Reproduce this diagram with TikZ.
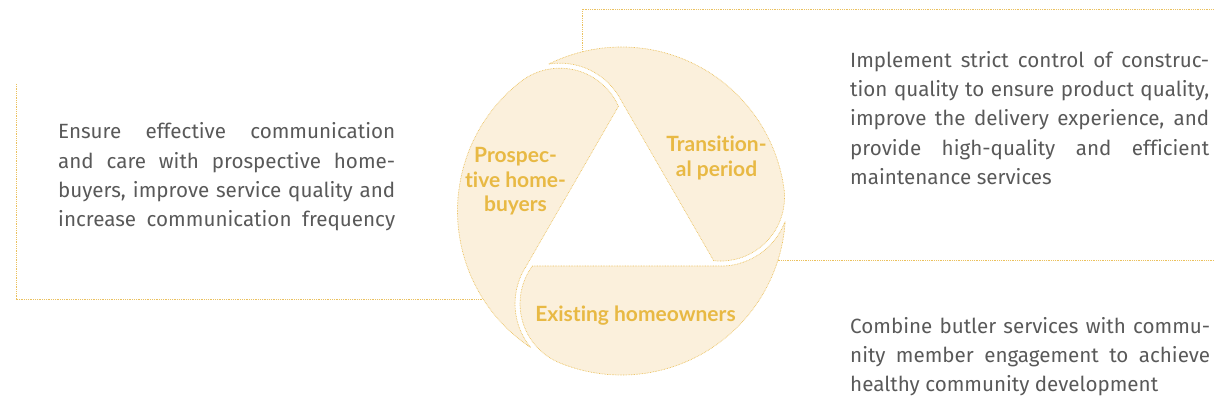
\documentclass[tikz,border=0pt]{standalone}
\usepackage{fontspec}
\setmainfont{Lato}[Ligatures=NoCommon]
\newfontfamily\descfont{Fira Sans}[Ligatures=NoCommon]
\definecolor{pfill}{HTML}{FBF0DC}
\definecolor{pline}{HTML}{EBC15E}
\definecolor{lbl}{HTML}{E8B944}
\definecolor{dtxt}{HTML}{595959}
\newcommand{\jline}[1]{\makebox[\linewidth][s]{#1}}
\tikzset{
  piece/.style={fill=pfill, draw=pline, line width=0.7pt, dash pattern=on 0.7pt off 0.9pt},
  conn/.style={draw=pline, line width=0.9pt, dash pattern=on 0.9pt off 0.9pt},
  desc/.style={inner sep=0pt, text=dtxt, font=\descfont\fontsize{20.6}{29.3}\selectfont, anchor=base west},
  lab/.style={inner sep=0pt, text=lbl, font=\fontsize{21}{24.5}\selectfont\bfseries, anchor=base},
}
\begin{document}
\begin{tikzpicture}[x=1pt,y=1pt]
\useasboundingbox (0,0) rectangle (1214,415);
% connector end points
\coordinate (lA) at (16,331);
\coordinate (lB) at (482.6,116);
\coordinate (tA) at (582,363.5);
\coordinate (tB) at (1214,406);
\coordinate (rA) at (777.5,155);
\coordinate (rB) at (1214,155);
\draw[conn] (lA) |- (lB);
\draw[conn] (tA) |- (tB);
\draw[conn] (rA) -- (rB);
% three pieces of the ring
\foreach \k/\nm in {0/pProsp,-120/pTrans,120/pExist}{
  \begin{scope}[shift={(621.5,204)}, rotate=\k]
    \path[piece] (-3.055,104.71)
      arc[start angle=23.88, end angle=128, radius=64]
      arc[start angle=128, end angle=236.4, radius=164]
      arc[start angle=219.46, end angle=146.87, radius=69] -- cycle;
    \coordinate (\nm) at (0,0);
  \end{scope}
}
% labels
\node[lab] (lProsp) at (515.5,252) {\parbox[t]{130pt}{\centering Prospec-\\tive home-\\buyers}};
\node[lab] (lTrans) at (716.5,263.3) {\parbox[t]{130pt}{\centering Transition-\\al period}};
\node[lab] (lExist) at (635.5,94) {Existing homeowners};
% descriptions
\node[desc] (dL) at (58,276) {\parbox[t]{337pt}{%
\jline{Ensure effective communication}\\
\jline{and care with prospective home-}\\
\jline{buyers, improve service quality and}\\
\jline{increase communication frequency}}};
\node[desc] (dTR) at (850,347.7) {\parbox[t]{359pt}{%
\jline{Implement strict control of construc-}\\
\jline{tion quality to ensure product quality,}\\
\jline{improve the delivery experience, and}\\
\jline{provide high-quality and efficient}\\
maintenance services}};
\node[desc] (dBR) at (850,82) {\parbox[t]{360pt}{%
\jline{Combine butler services with commu-}\\
\jline{nity member engagement to achieve}\\
healthy community development}};
\end{tikzpicture}
\end{document}
